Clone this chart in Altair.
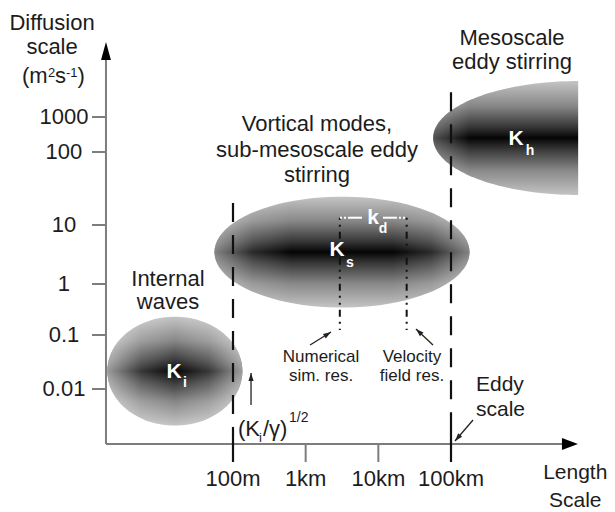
import math
import altair as alt
import pandas as pd

# ---------------- values ----------------
# y: log10 of diffusivity (m^2 s^-1)
y_tick_vals = [-2, -1, 0, 1, 2, 3]
y_tick_labels = ["0.01", "0.1", "1", "10", "100", "1000"]
# x: log10 of length (m)
x_tick_vals = [2, 3, 4, 5]
x_tick_labels = ["100m", "1km", "10km", "100km"]

# diffusion regimes: centre (log10 length, log10 diffusivity)
regime_lx = [1.20, 3.50, 6.75]
regime_ly = [-1.67, 0.54, 2.40]

# characteristic length scales
scale_lines_lx = [2.0, 5.0]        # (Ki/γ)^1/2 ~ 100 m, eddy scale ~ 100 km
scale_lines_top = [1.30, 3.46]
res_lx = [3.47, 4.39]              # numerical sim. res., velocity field res.
res_top, res_bottom = 1.10, -0.90

# ---------------- scales ----------------
XS = alt.Scale(domain=[2, 5], range=[225, 443], nice=False, zero=False)
YS = alt.Scale(domain=[-3, -2, -1, 0, 1, 2, 3, 4],
               range=[436, 381, 327, 276, 217, 144, 109, 55], nice=False, zero=False)


def exy(x="x", y="y"):
    return dict(x=alt.X(f"{x}:Q", scale=XS, axis=None),
                y=alt.Y(f"{y}:Q", scale=YS, axis=None))


FONT = "Liberation Sans"
TXT = "#1c1c1c"
AX = "#7d7d7d"


def ellipse_path(r, n=90, half=False):
    if half:
        ts = [math.pi / 2 + math.pi * i / n for i in range(n + 1)]
    else:
        ts = [2 * math.pi * i / n for i in range(n)]
    pts = [f"{math.cos(t):.4f},{r * math.sin(t):.4f}" for t in ts]
    return "M" + "L".join(pts) + "Z"


def lin(stops, horizontal=False):
    return {"gradient": "linear", "x1": 0, "y1": 0,
            "x2": 1 if horizontal else 0, "y2": 0 if horizontal else 1,
            "stops": [{"offset": o, "color": c} for o, c in stops]}


VGRAD = lin([(0, "#c4c4c4"), (0.22, "#878787"), (0.4, "#383838"), (0.5, "#050505"),
             (0.6, "#383838"), (0.78, "#878787"), (1, "#c4c4c4")])


def wh(a):
    return f"rgba(255,255,255,{a})"


HGRAD_I = lin([(0, wh(0.6)), (0.25, wh(0.2)), (0.5, wh(0)), (0.75, wh(0.2)), (1, wh(0.6))], True)
HGRAD_S = lin([(0, wh(0.5)), (0.15, wh(0.15)), (0.3, wh(0)), (0.7, wh(0)), (0.85, wh(0.15)), (1, wh(0.5))], True)
HGRAD_H = lin([(0, wh(0.3)), (0.25, wh(0)), (1, wh(0))], True)

shapes = [ellipse_path(0.807), ellipse_path(0.435), ellipse_path(0.393, half=True)]
sizes = [135 ** 2, 255 ** 2, 290 ** 2]
overlays = [HGRAD_I, HGRAD_S, HGRAD_H]

layers = []
for i in range(3):
    df = pd.DataFrame({"x": [regime_lx[i]], "y": [regime_ly[i]]})
    for g in (VGRAD, overlays[i]):
        layers.append(alt.Chart(df).mark_point(shape=shapes[i], size=sizes[i], filled=True,
                                               fill=g, opacity=1, strokeWidth=0).encode(**exy()))

# axis lines
axes_df = pd.DataFrame({"x": [0.252, 0.252], "y": [-3, -3], "x2": [0.252, 6.6], "y2": [4.25, -3]})
layers.append(alt.Chart(axes_df).mark_rule(color=AX, strokeWidth=2).encode(
    **exy(), x2="x2:Q", y2="y2:Q"))

# ticks
yt = pd.DataFrame({"y": y_tick_vals, "x": [0.06] * 6, "x2": [0.252] * 6, "lab": y_tick_labels,
                   "lx": [-0.326] * 6})
layers.append(alt.Chart(yt).mark_rule(color=AX, strokeWidth=2).encode(**exy(), x2="x2:Q"))
xt = pd.DataFrame({"x": x_tick_vals, "y": [-3.0] * 4, "y2": [-3.327] * 4, "lab": x_tick_labels,
                   "ly": [-3.645] * 4})
layers.append(alt.Chart(xt).mark_rule(color=AX, strokeWidth=2).encode(**exy(), y2="y2:Q"))

# dashed scale lines
dl = pd.DataFrame({"x": scale_lines_lx, "y": scale_lines_top, "y2": [-2.69, -2.69]})
layers.append(alt.Chart(dl).mark_rule(color="#111", strokeWidth=2.2, strokeDash=[19, 13]).encode(
    **exy(), y2="y2:Q"))
dl2 = pd.DataFrame({"x": scale_lines_lx, "y": [-2.69, -2.69], "y2": [-3.327, -3.327]})
layers.append(alt.Chart(dl2).mark_rule(color="#111", strokeWidth=2.2).encode(**exy(), y2="y2:Q"))

# resolution dotted lines
rl = pd.DataFrame({"x": res_lx, "y": [res_top] * 2, "y2": [res_bottom] * 2})
layers.append(alt.Chart(rl).mark_rule(color="#111", strokeWidth=2,
                                      strokeDash=[2, 5, 2, 5, 7, 5]).encode(**exy(), y2="y2:Q"))
# k_d white marker
kd_dot = pd.DataFrame({"x": [3.472, 4.229], "x2": [3.61, 4.394], "y": [res_top] * 2})
layers.append(alt.Chart(kd_dot).mark_rule(color="white", strokeWidth=2, strokeDash=[2, 2]).encode(
    **exy(), x2="x2:Q"))
kd_sol = pd.DataFrame({"x": [3.61, 4.064], "x2": [3.775, 4.229], "y": [res_top] * 2})
layers.append(alt.Chart(kd_sol).mark_rule(color="white", strokeWidth=2).encode(**exy(), x2="x2:Q"))

# axis arrow heads
ah = pd.DataFrame({"x": [0.252], "y": [4.389]})
layers.append(alt.Chart(ah).mark_point(shape="M0,0L0.55,2L-0.55,2Z", size=324, filled=True,
                                       fill="#000", opacity=1, strokeWidth=0).encode(**exy()))
ah2 = pd.DataFrame({"x": [6.747], "y": [-3.0]})
layers.append(alt.Chart(ah2).mark_point(shape="M0,0L-2,-0.75L-2,0.75Z", size=256, filled=True,
                                        fill="#000", opacity=1, strokeWidth=0).encode(**exy()))

# annotation arrows
arr = pd.DataFrame({"x": [3.060, 4.752, 5.303, 2.248], "y": [-1.185, -1.185, -2.564, -2.291],
                    "x2": [3.349, 4.518, 5.055, 2.248], "y2": [-0.941, -0.882, -2.945, -1.704],
                    "angle": [58, 313, 221, 0]})
layers.append(alt.Chart(arr).mark_rule(color="#222", strokeWidth=1.3).encode(
    **exy(), x2="x2:Q", y2="y2:Q"))
layers.append(alt.Chart(arr).mark_point(shape="M0,0L0.5,1.5L-0.5,1.5Z", size=110, filled=True,
                                        fill="#222", opacity=1, strokeWidth=0).encode(
    **exy("x2", "y2"), angle=alt.Angle("angle:Q", scale=None)))

# tick labels
layers.append(alt.Chart(yt).mark_text(font=FONT, fontSize=22, color=TXT).encode(
    **exy("lx", "y"), text="lab:N"))
layers.append(alt.Chart(xt).mark_text(font=FONT, fontSize=22, color=TXT).encode(
    **exy("x", "ly"), text="lab:N"))

# text annotations
center_txt = pd.DataFrame([
    ("Diffusion", -0.49, 4.75, 22), ("scale", -0.49, 4.29, 22),
    ("Internal", 1.105, 0.085, 22), ("waves", 1.105, -0.353, 22),
    ("Vortical modes,", 3.156, 2.79, 22), ("sub-mesoscale eddy", 3.156, 2.05, 22),
    ("stirring", 3.156, 1.68, 22),
    ("Mesoscale", 5.839, 4.46, 22), ("eddy stirring", 5.839, 4.02, 22),
    ("Numerical", 3.211, -1.407, 17), ("sim. res.", 3.211, -1.76, 17),
    ("Velocity", 4.463, -1.407, 17), ("field res.", 4.463, -1.76, 17),
    ("Length", 6.71, -3.53, 21), ("Scale", 6.71, -4.03, 21),
], columns=["text", "x", "y", "size"])
layers.append(alt.Chart(center_txt).mark_text(font=FONT, color=TXT).encode(
    **exy(), text="text:N", size=alt.Size("size:Q", scale=None)))

left_txt = pd.DataFrame([
    ("(m", -0.904, 3.767, 22), ("2", -0.546, 3.806, 13), ("s", -0.449, 3.767, 22),
    ("-1", -0.298, 3.806, 13), (")", -0.140, 3.767, 22),
    ("Eddy", 5.344, -1.917, 21), ("scale", 5.344, -2.373, 21),
    ("(K", 2.069, -2.727, 22), ("i", 2.358, -2.891, 13), ("/γ)", 2.413, -2.727, 22),
    ("1/2", 2.771, -2.53, 14),
], columns=["text", "x", "y", "size"])
layers.append(alt.Chart(left_txt).mark_text(font=FONT, color=TXT, align="left").encode(
    **exy(), text="text:N", size=alt.Size("size:Q", scale=None)))

white_txt = pd.DataFrame([
    ("K", 1.188, -1.685, 21), ("i", 1.339, -1.889, 14),
    ("K", 3.431, 0.576, 21), ("s", 3.61, 0.356, 14),
    ("K", 5.894, 2.371, 21), ("h", 6.087, 2.029, 14),
    ("k", 3.927, 1.096, 21), ("d", 4.064, 0.924, 14),
], columns=["text", "x", "y", "size"])
layers.append(alt.Chart(white_txt).mark_text(font=FONT, color="white", fontWeight="bold").encode(
    **exy(), text="text:N", size=alt.Size("size:Q", scale=None)))

chart = alt.layer(*layers).properties(
    width=599, height=504, autosize=alt.AutoSizeParams(type="none"), padding=0
).configure_view(stroke=None)

chart.save("out.html", embed_options={"renderer": "svg", "actions": False})
